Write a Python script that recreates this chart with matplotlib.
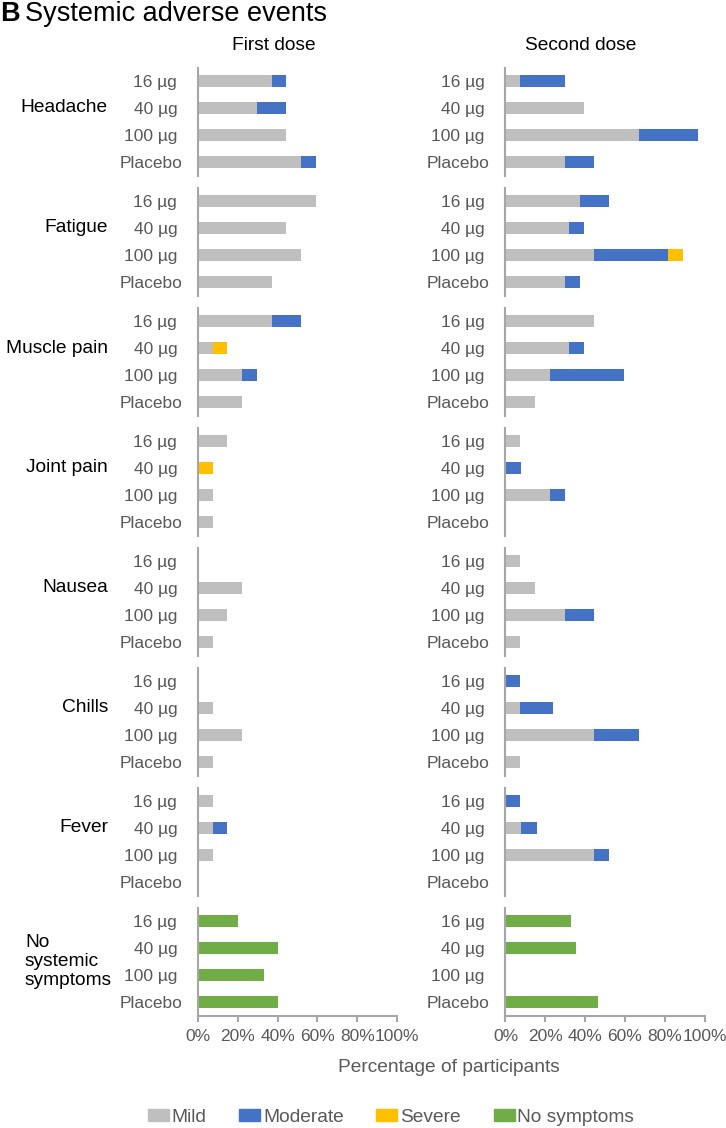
import matplotlib
matplotlib.use("Agg")
import matplotlib.pyplot as plt
from matplotlib.patches import Patch

plt.rcParams['font.family'] = ['Liberation Sans', 'DejaVu Sans']

symptoms = ["Headache", "Fatigue", "Muscle pain", "Joint pain", "Nausea",
            "Chills", "Fever", "No\nsystemic\nsymptoms"]
groups = ["16 µg", "40 µg", "100 µg", "Placebo"]
doses = ["First dose", "Second dose"]
xticks = [0, 20, 40, 60, 80, 100]
xticklabels = ["0%", "20%", "40%", "60%", "80%", "100%"]

# First dose (% participants), rows = symptoms, cols = groups
first_mild = [[37.0, 29.6, 44.4, 51.9],
              [59.3, 44.4, 51.9, 37.0],
              [37.0, 7.4, 22.2, 22.2],
              [14.8, 0.0, 7.4, 7.4],
              [0.0, 22.2, 14.8, 7.4],
              [0.0, 7.4, 22.2, 7.4],
              [7.4, 7.4, 7.4, 0.0],
              [0.0, 0.0, 0.0, 0.0]]
first_moderate = [[7.4, 14.8, 0.0, 7.4],
                  [0.0, 0.0, 0.0, 0.0],
                  [14.8, 0.0, 7.4, 0.0],
                  [0.0, 0.0, 0.0, 0.0],
                  [0.0, 0.0, 0.0, 0.0],
                  [0.0, 0.0, 0.0, 0.0],
                  [0.0, 7.4, 0.0, 0.0],
                  [0.0, 0.0, 0.0, 0.0]]
first_severe = [[0.0, 0.0, 0.0, 0.0],
                [0.0, 0.0, 0.0, 0.0],
                [0.0, 7.4, 0.0, 0.0],
                [0.0, 7.4, 0.0, 0.0],
                [0.0, 0.0, 0.0, 0.0],
                [0.0, 0.0, 0.0, 0.0],
                [0.0, 0.0, 0.0, 0.0],
                [0.0, 0.0, 0.0, 0.0]]
first_none = [[0.0, 0.0, 0.0, 0.0]] * 7 + [[20.0, 40.0, 33.0, 40.0]]

# Second dose
second_mild = [[7.4, 39.5, 67.0, 29.8],
               [37.2, 31.9, 44.7, 29.8],
               [44.7, 31.9, 22.3, 14.9],
               [7.4, 0.0, 22.3, 0.0],
               [7.4, 14.8, 29.8, 7.4],
               [0.0, 7.4, 44.7, 7.4],
               [0.0, 7.9, 44.7, 0.0],
               [0.0, 0.0, 0.0, 0.0]]
second_moderate = [[22.4, 0.0, 29.7, 14.6],
                   [14.7, 7.6, 37.2, 7.4],
                   [0.0, 7.6, 37.2, 0.0],
                   [0.0, 7.6, 7.5, 0.0],
                   [0.0, 0.0, 14.6, 0.0],
                   [7.4, 16.6, 22.3, 0.0],
                   [7.4, 7.9, 7.2, 0.0],
                   [0.0, 0.0, 0.0, 0.0]]
second_severe = [[0.0, 0.0, 0.0, 0.0],
                 [0.0, 0.0, 7.1, 0.0],
                 [0.0, 0.0, 0.0, 0.0],
                 [0.0, 0.0, 0.0, 0.0],
                 [0.0, 0.0, 0.0, 0.0],
                 [0.0, 0.0, 0.0, 0.0],
                 [0.0, 0.0, 0.0, 0.0],
                 [0.0, 0.0, 0.0, 0.0]]
second_none = [[0.0, 0.0, 0.0, 0.0]] * 7 + [[33.0, 35.6, 0.0, 46.7]]

C_MILD = "#BFBFBF"
C_MOD = "#4472C4"
C_SEV = "#FFC000"
C_NONE = "#70AD47"
GRAY_TXT = "#595959"
AX_COL = "#A6A6A6"

W, H = 726, 1128
fig = plt.figure(figsize=(W / 100, H / 100), dpi=100)

col_x = [198, 505.5]
col_w = 199
data = [(first_mild, first_moderate, first_severe, first_none),
        (second_mild, second_moderate, second_severe, second_none)]

for c in range(2):
    mild, mod, sev, none = data[c]
    for i in range(len(symptoms)):
        top = 67.5 + 120 * i
        h = 108
        ax = fig.add_axes([col_x[c] / W, 1 - (top + h) / H, col_w / W, h / H])
        y = list(range(len(groups)))
        m = mild[i]
        mo = mod[i]
        s = sev[i]
        n = none[i]
        bh = 0.43
        ax.barh(y, m, height=bh, color=C_MILD)
        ax.barh(y, mo, left=m, height=bh, color=C_MOD)
        left2 = [a + b for a, b in zip(m, mo)]
        ax.barh(y, s, left=left2, height=bh, color=C_SEV)
        ax.barh(y, n, height=bh, color=C_NONE)
        ax.set_xlim(0, 100)
        ax.set_ylim(3.5, -0.5)
        ax.set_yticks(y)
        ax.set_yticklabels([g + " " if "µg" in g else g for g in groups],
                           color=GRAY_TXT, fontsize=12.5)
        ax.tick_params(axis='y', length=0, pad=11.5)
        for sp in ["top", "right"]:
            ax.spines[sp].set_visible(False)
        ax.spines["left"].set_color(AX_COL)
        ax.spines["left"].set_linewidth(1.5)
        if i == len(symptoms) - 1:
            ax.spines["bottom"].set_color(AX_COL)
            ax.spines["bottom"].set_linewidth(1.5)
            ax.set_xticks(xticks)
            ax.set_xticklabels(xticklabels, color=GRAY_TXT, fontsize=12.5)
            ax.tick_params(axis='x', length=4, width=1.5, color=AX_COL, pad=6)
        else:
            ax.spines["bottom"].set_visible(False)
            ax.set_xticks([])
        ax.patch.set_alpha(0)
        if c == 0:
            if "\n" in symptoms[i]:
                fig.text(25 / W, 1 - (top + h / 2) / H, symptoms[i],
                         ha='left', va='center', fontsize=13.8,
                         linespacing=1.15, color='black')
            else:
                yc = top + h / 4 * 1.5
                fig.text(108 / W, 1 - yc / H, symptoms[i], ha='right',
                         va='center', fontsize=13.8, color='black')

# Column titles
fig.text(274 / W, 1 - 46 / H, doses[0], ha='center', va='center', fontsize=13.8)
fig.text(581 / W, 1 - 46 / H, doses[1], ha='center', va='center', fontsize=13.8)

# Main title
fig.text(0 / W, 1 - 14 / H, "B", ha='left', va='center', fontsize=19.5,
         fontweight='bold')
fig.text(25 / W, 1 - 14 / H, "Systemic adverse events", ha='left',
         va='center', fontsize=19.5)

# X label
fig.text(449 / W, 1 - 1068 / H, "Percentage of participants", ha='center',
         va='center', fontsize=13.8, color=GRAY_TXT)

# Legend
handles = [Patch(color=C_MILD, label="Mild"),
           Patch(color=C_MOD, label="Moderate"),
           Patch(color=C_SEV, label="Severe"),
           Patch(color=C_NONE, label="No symptoms")]
leg = fig.legend(handles=handles, loc='center', ncol=4,
                 bbox_to_anchor=(391 / W, 1 - 1117 / H), frameon=False,
                 fontsize=13.8, handlelength=1.1, handleheight=0.62,
                 handletextpad=0.15, columnspacing=1.7)
for t in leg.get_texts():
    t.set_color(GRAY_TXT)

fig.savefig("out.png", dpi=100)
